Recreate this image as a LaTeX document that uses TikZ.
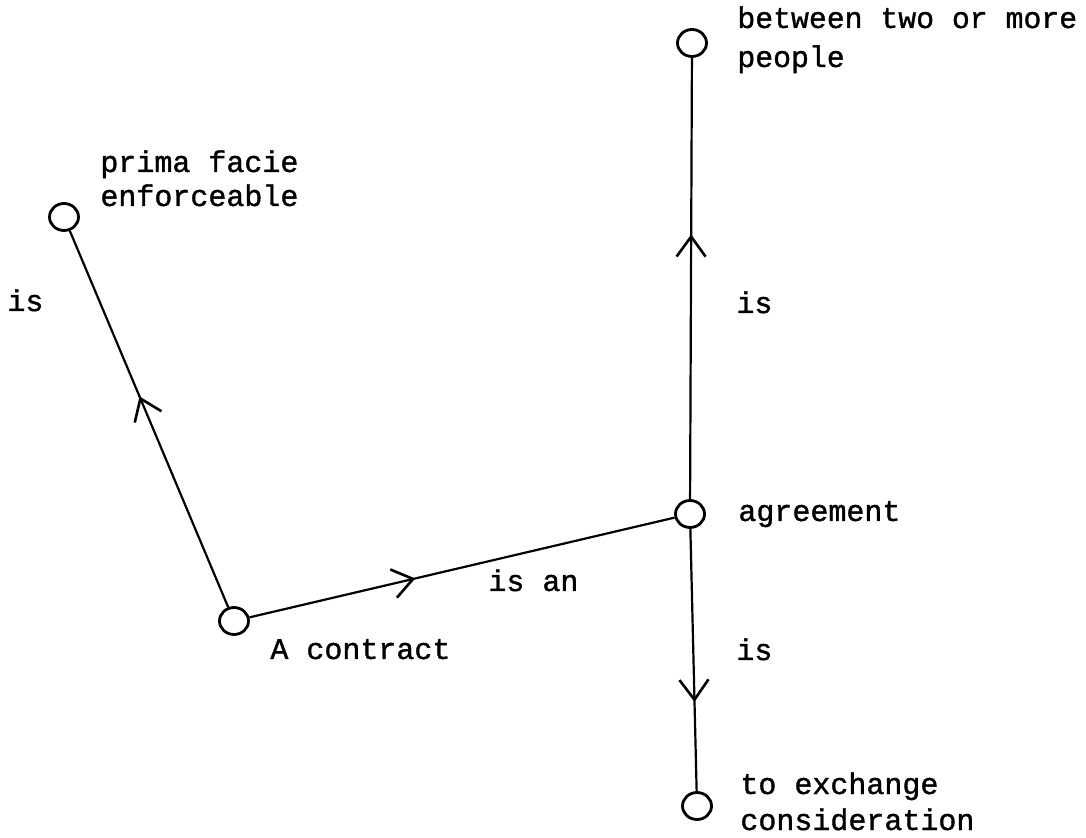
\documentclass[tikz,border=0pt]{standalone}
\usepackage{fontspec}
\setmonofont{Liberation Mono}[FakeBold=1.2]
\usetikzlibrary{arrows.meta,decorations.markings,shapes.geometric}
\begin{document}
\begin{tikzpicture}[x=0.5pt,y=-0.5pt,
  dot/.style={ellipse,draw,line width=1.4pt,minimum width=14.5pt,minimum height=13.5pt,inner sep=0},
  lbl/.style={font=\ttfamily\fontsize{15}{17}\selectfont,anchor=base west,inner sep=0,align=left},
  link/.style={line width=1.1pt,postaction={decorate},
    decoration={markings,mark=at position #1 with {\arrow{Straight Barb[length=10pt,width=14.5pt,line width=1.3pt]}}}},
]
\useasboundingbox (0,0) rectangle (1086,838);
\node[dot] (prima) at (64,217) {};
\node[dot] (contract) at (234,621) {};
\node[dot] (agree) at (690,514) {};
\node[dot] (top) at (692,43) {};
\node[dot] (bottom) at (697,806) {};

\node[lbl] (lprima) at (100,206) {prima facie\\enforceable};
\node[lbl] (lcontract) at (270,659) {A contract};
\node[lbl] (lagree) at (738,521) {agreement};
\node[lbl,font=\ttfamily\fontsize{14.9}{19.5}\selectfont] (ltop) at (737,67) {between two or more\\people};
\node[lbl,font=\ttfamily\fontsize{15}{18}\selectfont] (lbottom) at (740,830) {to exchange\\consideration};
\node[lbl] (is1) at (7,311) {is};
\node[lbl] (is2) at (736,313) {is};
\node[lbl] (is3) at (736,660) {is};
\node[lbl] (isan) at (488,591) {is an};

\draw[link=0.56] (contract) -- (prima);
\draw[link=0.39] (contract) -- (agree);
\draw[link=0.6] (agree) -- (top);
\draw[link=0.66] (agree) -- (bottom);
\end{tikzpicture}
\end{document}
